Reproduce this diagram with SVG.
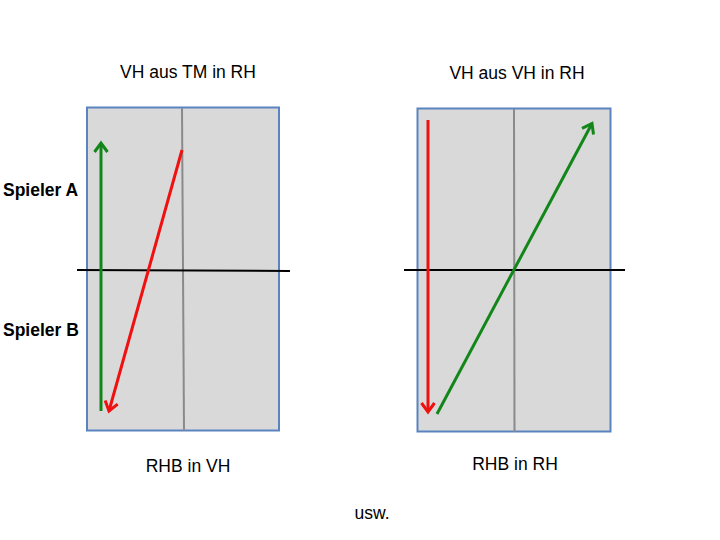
<svg xmlns="http://www.w3.org/2000/svg" width="720" height="540" viewBox="0 0 720 540">
<defs>
<style>
.t{font-family:"Liberation Sans",Arial,sans-serif;font-size:17.5px;fill:#000}
.b{font-weight:bold}
.box{fill:#d9d9d9;stroke:#5a84c0;stroke-width:2}
.mid{stroke:#8a8a8a;stroke-width:2;fill:none}
.hz{stroke:#000;stroke-width:2;fill:none}
.g{stroke:#13861a;stroke-width:3;fill:none}
.r{stroke:#f01010;stroke-width:3;fill:none}
</style>
<marker id="ag" markerUnits="userSpaceOnUse" markerWidth="24" markerHeight="24" viewBox="-12 -12 24 24" refX="0" refY="0" orient="auto">
<path d="M-9,-6.5 L0,0 L-9,6.5" fill="none" stroke="#13861a" stroke-width="3"/>
</marker>
<marker id="ar" markerUnits="userSpaceOnUse" markerWidth="24" markerHeight="24" viewBox="-12 -12 24 24" refX="0" refY="0" orient="auto">
<path d="M-9,-6.5 L0,0 L-9,6.5" fill="none" stroke="#f01010" stroke-width="3"/>
</marker>
</defs>
<rect width="720" height="540" fill="#fff"/>
<g id="court-left">
<rect class="box" x="87" y="107.5" width="192" height="323"/>
<line class="mid" x1="182" y1="108" x2="184" y2="431"/>
</g>
<g id="court-right">
<rect class="box" x="417.5" y="108.5" width="193" height="323"/>
<line class="mid" x1="514" y1="109" x2="514.5" y2="432"/>
</g>
<g id="net-lines">
<line class="hz" x1="77" y1="270" x2="290" y2="271"/>
<line class="hz" x1="404" y1="270" x2="625" y2="270"/>
</g>
<g id="connectors">
<line class="g" x1="101" y1="411" x2="101" y2="143" marker-end="url(#ag)"/>
<line class="r" x1="182" y1="150" x2="109" y2="411" marker-end="url(#ar)"/>
<line class="r" x1="428" y1="120" x2="428" y2="412" marker-end="url(#ar)"/>
<line class="g" x1="437" y1="414" x2="592" y2="123.5" marker-end="url(#ag)"/>
</g>
<g id="labels">
<text class="t" x="188" y="78" text-anchor="middle">VH aus TM in RH</text>
<text class="t" x="517" y="79" text-anchor="middle">VH aus VH in RH</text>
<text class="t b" x="3" y="196">Spieler A</text>
<text class="t b" x="3" y="336">Spieler B</text>
<text class="t" x="188" y="472" text-anchor="middle">RHB in VH</text>
<text class="t" x="515" y="470" text-anchor="middle">RHB in RH</text>
<text class="t" x="372" y="519" text-anchor="middle">usw.</text>
</g>
</svg>
